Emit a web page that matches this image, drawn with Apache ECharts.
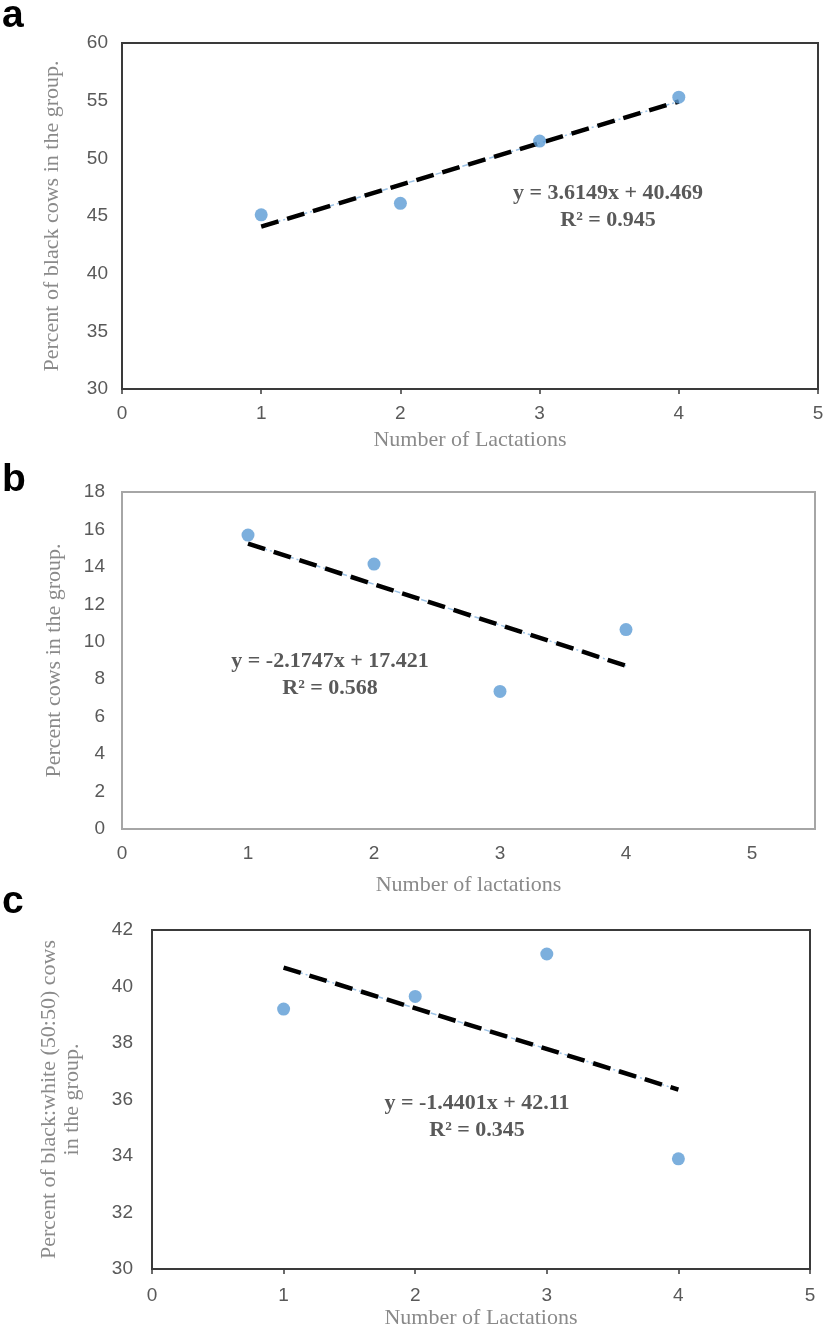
<!DOCTYPE html>
<html>
<head>
<meta charset="utf-8">
<script src="https://cdn.jsdelivr.net/npm/echarts@6/dist/echarts.min.js"></script>
<style>
html,body{margin:0;padding:0;background:#fff;}
#chart{width:827px;height:1333px;}
</style>
</head>
<body>
<div id="chart"></div>
<script>
// ---- data ----
const lactations = [1, 2, 3, 4];
const blackPct = [45.1, 46.1, 51.5, 55.3];        // panel a
const cowsPct = [15.7, 14.15, 7.35, 10.65];        // panel b
const bwPct = [39.2, 39.65, 41.15, 33.9];          // panel c

// trend line equations shown on the chart
const trendA = { slope: 3.6149, intercept: 40.469, r2: '0.945' };
const trendB = { slope: -2.1747, intercept: 17.421, r2: '0.568' };
const trendC = { slope: -1.4401, intercept: 42.11, r2: '0.345' };

const panelLetters = ['a', 'b', 'c'];
const yTitles = ['Percent of black cows in the group.', 'Percent cows in the group.', 'Percent of black:white (50:50) cows\nin the group.'];
const xTitles = ['Number of Lactations', 'Number of lactations', 'Number of Lactations'];
const yRanges = [[30, 60, 5], [0, 18, 2], [30, 42, 2]];
const xMax = [5, 5.5, 5];

function eqText(t) {
  const sign = t.intercept >= 0 ? ' + ' : ' - ';
  return 'y = ' + t.slope + 'x' + sign + Math.abs(t.intercept) + '\nR\u00B2 = ' + t.r2;
}
function trendPts(t) {
  return [lactations[0], lactations[lactations.length - 1]].map(x => [x, +(t.slope * x + t.intercept).toFixed(4)]);
}

const chart = echarts.init(document.getElementById('chart'), null, { renderer: 'canvas' });

const grids = [
  { left: 122, top: 43, width: 696, height: 346, show: true, borderColor: '#3a3a3a', borderWidth: 2, backgroundColor: '#fff' },
  { left: 122, top: 492, width: 693, height: 337, show: true, borderColor: '#a6a6a6', borderWidth: 2, backgroundColor: '#fff' },
  { left: 152, top: 930, width: 658, height: 339, show: true, borderColor: '#3a3a3a', borderWidth: 2, backgroundColor: '#fff' }
];
const axisLineColors = ['#3a3a3a', '#a6a6a6', '#3a3a3a'];
const showTicks = [true, false, true];
const xNameGaps = [40, 45, 38];
const yNameGaps = [58, 56, 68];
const yLabelMargins = [14, 17, 19];
const xLabelMargins = [15, 15, 17];

const tickFont = { color: '#595959', fontFamily: 'Liberation Sans, Arial, sans-serif', fontSize: 19 };
const titleFont = { color: '#8a8a8a', fontFamily: 'Liberation Serif, Times New Roman, serif', fontSize: 22 };

const xAxes = [0, 1, 2].map(i => ({
  type: 'value', gridIndex: i, min: 0, max: xMax[i], interval: 1,
  name: xTitles[i], nameLocation: 'middle', nameGap: xNameGaps[i],
  nameTextStyle: Object.assign({}, titleFont),
  axisLine: { show: true, onZero: false, lineStyle: { color: axisLineColors[i], width: 2 } },
  axisTick: { show: showTicks[i], length: 5, lineStyle: { color: axisLineColors[i], width: 1.5 } },
  axisLabel: Object.assign({ margin: xLabelMargins[i], showMaxLabel: i !== 1 }, tickFont),
  splitLine: { show: false }
}));

const yAxes = [0, 1, 2].map(i => ({
  type: 'value', gridIndex: i, min: yRanges[i][0], max: yRanges[i][1], interval: yRanges[i][2],
  name: yTitles[i], nameLocation: 'middle', nameGap: yNameGaps[i], nameRotate: 90,
  nameTextStyle: Object.assign({ lineHeight: 23 }, titleFont),
  axisLine: { show: false },
  axisTick: { show: false },
  axisLabel: Object.assign({ margin: yLabelMargins[i] }, tickFont),
  splitLine: { show: false }
}));

const dataSets = [blackPct, cowsPct, bwPct];
const trends = [trendA, trendB, trendC];
const series = [];
[0, 1, 2].forEach(i => {
  series.push({
    type: 'line', xAxisIndex: i, yAxisIndex: i, data: trendPts(trends[i]),
    showSymbol: false, silent: true, z: 2,
    lineStyle: { color: '#9dc3e6', width: 1.5, type: [6, 3, 2, 3] }
  });
  series.push({
    type: 'line', xAxisIndex: i, yAxisIndex: i, data: trendPts(trends[i]),
    showSymbol: false, silent: true, z: 3,
    lineStyle: { color: '#000', width: 4.5, type: [18, 9] }
  });
  series.push({
    type: 'scatter', xAxisIndex: i, yAxisIndex: i,
    data: lactations.map((x, k) => [x, dataSets[i][k]]),
    symbol: 'circle', symbolSize: 13, z: 4,
    itemStyle: { color: '#5b9bd5' }
  });
});

const eqPos = [[608, 207], [330, 675], [477, 1117]];
const letterPos = [[2, 16], [2, 480], [2, 902]];
const graphic = [];
[0, 1, 2].forEach(i => {
  graphic.push({
    type: 'text', left: letterPos[i][0], top: letterPos[i][1] - 19,
    style: { text: panelLetters[i], fill: '#000', font: 'bold 39px "Liberation Sans", Arial, sans-serif' }
  });
  graphic.push({
    type: 'text', x: eqPos[i][0], y: eqPos[i][1],
    style: {
      text: eqText(trends[i]), fill: '#595959', align: 'center', verticalAlign: 'middle',
      font: 'bold 22px "Liberation Serif", "Times New Roman", serif', lineHeight: 27
    }
  });
});

chart.setOption({
  animation: false,
  backgroundColor: '#fff',
  grid: grids,
  xAxis: xAxes,
  yAxis: yAxes,
  series: series,
  graphic: graphic
});
</script>
</body>
</html>
